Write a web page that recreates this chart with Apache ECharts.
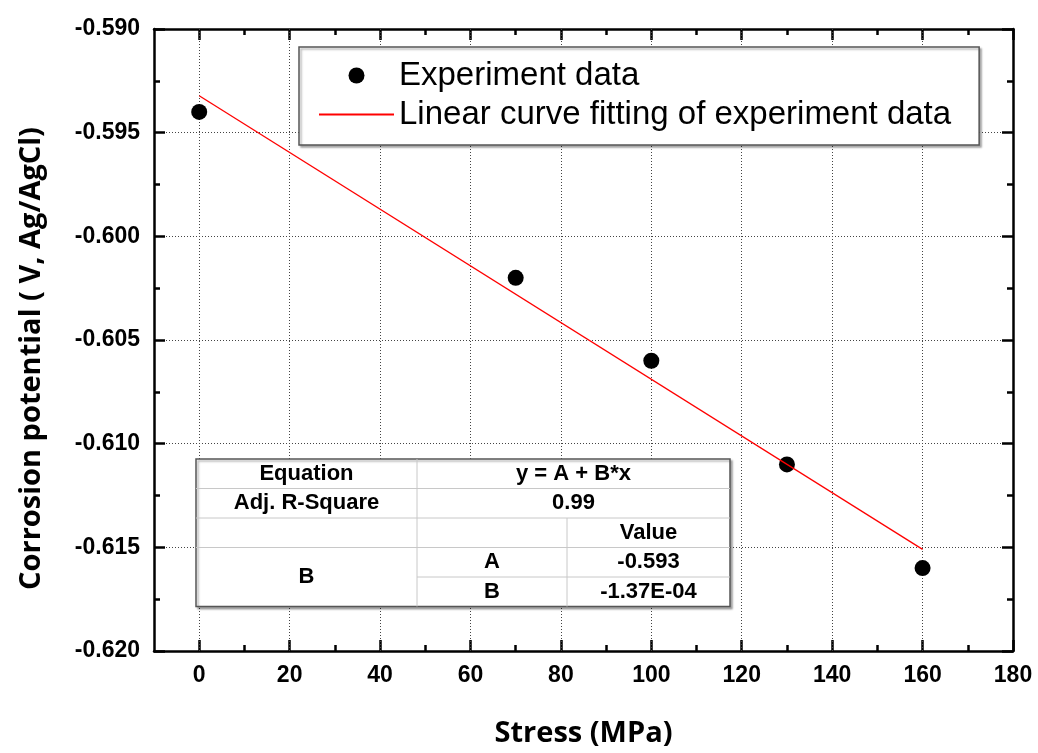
<!DOCTYPE html>
<html>
<head>
<meta charset="utf-8">
<script src="https://cdn.jsdelivr.net/npm/echarts@6/dist/echarts.min.js"></script>
<style>
html,body{margin:0;padding:0;background:#fff;}
#c{width:1038px;height:753px;}
</style>
</head>
<body>
<div id="c"></div>
<script>
// ---- data ----
const stressX = [0, 70, 100, 130, 160];
const potentialY = [-0.594, -0.602, -0.606, -0.611, -0.616];
const fitX = [0, 160];
const fitY = [-0.59322, -0.61510];
const xMajorTicks = [0, 20, 40, 60, 80, 100, 120, 140, 160, 180];
const xMinorTicks = [10, 30, 50, 70, 90, 110, 130, 150, 170];
const xGridValues = [0, 20, 40, 60, 80, 100, 120, 140, 160];
const legendNames = ['Experiment data', 'Linear curve fitting of experiment data'];
const xTitle = 'Stress (MPa)';
const yTitle = 'Corrosion potential ( V, Ag/AgCl)';
const tblEquationLabel = 'Equation';
const tblEquation = 'y = A + B*x';
const tblR2Label = 'Adj. R-Square';
const tblR2 = '0.99';
const tblValueHeader = 'Value';
const tblGroup = 'B';
const tblParamNames = ['A', 'B'];
const tblParamValues = ['-0.593', '-1.37E-04'];

const chart = echarts.init(document.getElementById('c'), null, {renderer: 'canvas'});

const axisLineStyle = {color: '#000', width: 2.5};
const tickFont = {fontFamily: 'Liberation Sans, Arial, sans-serif', fontWeight: 'bold', fontSize: 23, color: '#000'};
const titleFont = {fontFamily: 'Open Sans, sans-serif', fontWeight: 'bold', fontSize: 29, color: '#000'};
const gridDot = {color: '#444', width: 1, type: [1, 2]};

function xAx(pos, ticks, len, showLine, labels) {
  return {
    type: 'value', min: -10, max: 180, interval: 10, position: pos,
    axisLine: {show: showLine, onZero: false, lineStyle: axisLineStyle},
    axisTick: {show: true, inside: true, length: len, customValues: ticks, lineStyle: {color: '#000', width: 2.5}},
    axisLabel: labels ? Object.assign({show: true, margin: 13, customValues: xMajorTicks}, tickFont) : {show: false},
    splitLine: {show: false}
  };
}

const xAxes = [
  Object.assign(xAx('bottom', xMajorTicks, 11, true, true), {
    name: xTitle, nameLocation: 'middle', nameGap: 68, nameTextStyle: titleFont
  }),
  xAx('bottom', xMinorTicks, 6, false, false),
  xAx('top', xMajorTicks, 11, true, false),
  xAx('top', xMinorTicks, 6, false, false)
];

function yAx(pos, labels) {
  return {
    type: 'value', min: -0.62, max: -0.59, interval: 0.005, position: pos,
    axisLine: {show: true, onZero: false, lineStyle: axisLineStyle},
    axisTick: {show: true, inside: true, length: 11, lineStyle: {color: '#000', width: 2.5}},
    minorTick: {show: true, splitNumber: 2, length: 6, lineStyle: {color: '#000', width: 2.5}},
    axisLabel: labels ? Object.assign({show: true, margin: 14, formatter: v => v.toFixed(3)}, tickFont) : {show: false},
    splitLine: {show: labels, lineStyle: gridDot}
  };
}

const yAxes = [
  Object.assign(yAx('left', true), {
    name: yTitle, nameLocation: 'middle', nameGap: 108,
    nameTextStyle: Object.assign({padding: [0, 37, 0, 0]}, titleFont)
  }),
  yAx('right', false)
];

const option = {
  animation: false,
  backgroundColor: '#fff',
  grid: {left: 154, right: 25, top: 29, bottom: 99, containLabel: false},
  xAxis: xAxes,
  yAxis: yAxes,
  legend: {
    orient: 'vertical', left: 299, top: 47,
    itemWidth: 75, itemHeight: 16, itemGap: 0, itemTextGap: 12,
    padding: [9, 28, 11, 19],
    backgroundColor: '#fff', borderColor: '#555', borderWidth: 1.5,
    shadowColor: 'rgba(0,0,0,0.3)', shadowOffsetX: 2, shadowOffsetY: 2, shadowBlur: 2,
    textStyle: {fontFamily: 'Liberation Sans, Arial, sans-serif', fontSize: 33, color: '#000', lineHeight: 39},
    data: [
      {name: legendNames[0]},
      {name: legendNames[1], itemStyle: {opacity: 0}}
    ]
  },
  series: [
    {
      name: legendNames[0], type: 'scatter', xAxisIndex: 0, yAxisIndex: 0,
      symbol: 'circle', symbolSize: 16, itemStyle: {color: '#000', opacity: 1}, z: 3,
      data: stressX.map((x, i) => [x, potentialY[i]])
    },
    {
      name: legendNames[1], type: 'line', xAxisIndex: 0, yAxisIndex: 0,
      symbol: 'none', lineStyle: {color: '#ff0000', width: 1.3}, itemStyle: {color: '#ff0000'}, z: 4,
      data: fitX.map((x, i) => [x, fitY[i]]),
      markLine: {
        silent: true, symbol: 'none', label: {show: false}, z: 1,
        lineStyle: gridDot, emphasis: {disabled: true},
        data: xGridValues.map(v => ({xAxis: v}))
      }
    }
  ]
};
chart.setOption(option);

// ---- inset fit-results table (annotation) ----
const T = {l: 196, r: 730, c1: 417, c2: 567, rows: [459, 488.5, 518, 547.5, 577, 606.5]};
const tFont = 'bold 22px "Liberation Sans", Arial, sans-serif';
const inner = {stroke: '#c8c8c8', lineWidth: 1};
function hline(x1, x2, y) { return {type: 'line', z: 100, shape: {x1, y1: y, x2, y2: y}, style: inner}; }
function vline(x, y1, y2) { return {type: 'line', z: 100, shape: {x1: x, y1, x2: x, y2}, style: inner}; }
function txt(s, x, y) {
  return {type: 'text', z: 101, x, y, style: {text: s, font: tFont, fill: '#000', align: 'center', verticalAlign: 'middle'}};
}
const R = T.rows;
const mid = i => (R[i] + R[i + 1]) / 2;
const cA = (T.l + T.c1) / 2, cBC = (T.c1 + T.r) / 2, cB = (T.c1 + T.c2) / 2, cC = (T.c2 + T.r) / 2;
const tableEls = [
  {type: 'rect', z: 99, shape: {x: T.l, y: R[0], width: T.r - T.l, height: R[5] - R[0]},
   style: {fill: '#fff', stroke: '#555', lineWidth: 1.5, shadowColor: 'rgba(0,0,0,0.3)', shadowOffsetX: 2, shadowOffsetY: 2, shadowBlur: 2}},
  vline(T.c1, R[0], R[5]),
  vline(T.c2, R[2], R[5]),
  hline(T.l, T.r, R[1]),
  hline(T.l, T.r, R[2]),
  hline(T.l, T.r, R[3]),
  hline(T.c1, T.r, R[4]),
  txt(tblEquationLabel, cA, mid(0)),
  txt(tblEquation, cBC, mid(0)),
  txt(tblR2Label, cA, mid(1)),
  txt(tblR2, cBC, mid(1)),
  txt(tblValueHeader, cC, mid(2)),
  txt(tblGroup, cA, (R[3] + R[5]) / 2),
  txt(tblParamNames[0], cB, mid(3)),
  txt(tblParamValues[0], cC, mid(3)),
  txt(tblParamNames[1], cB, mid(4)),
  txt(tblParamValues[1], cC, mid(4))
];
chart.setOption({graphic: {elements: tableEls}});
</script>
</body>
</html>
